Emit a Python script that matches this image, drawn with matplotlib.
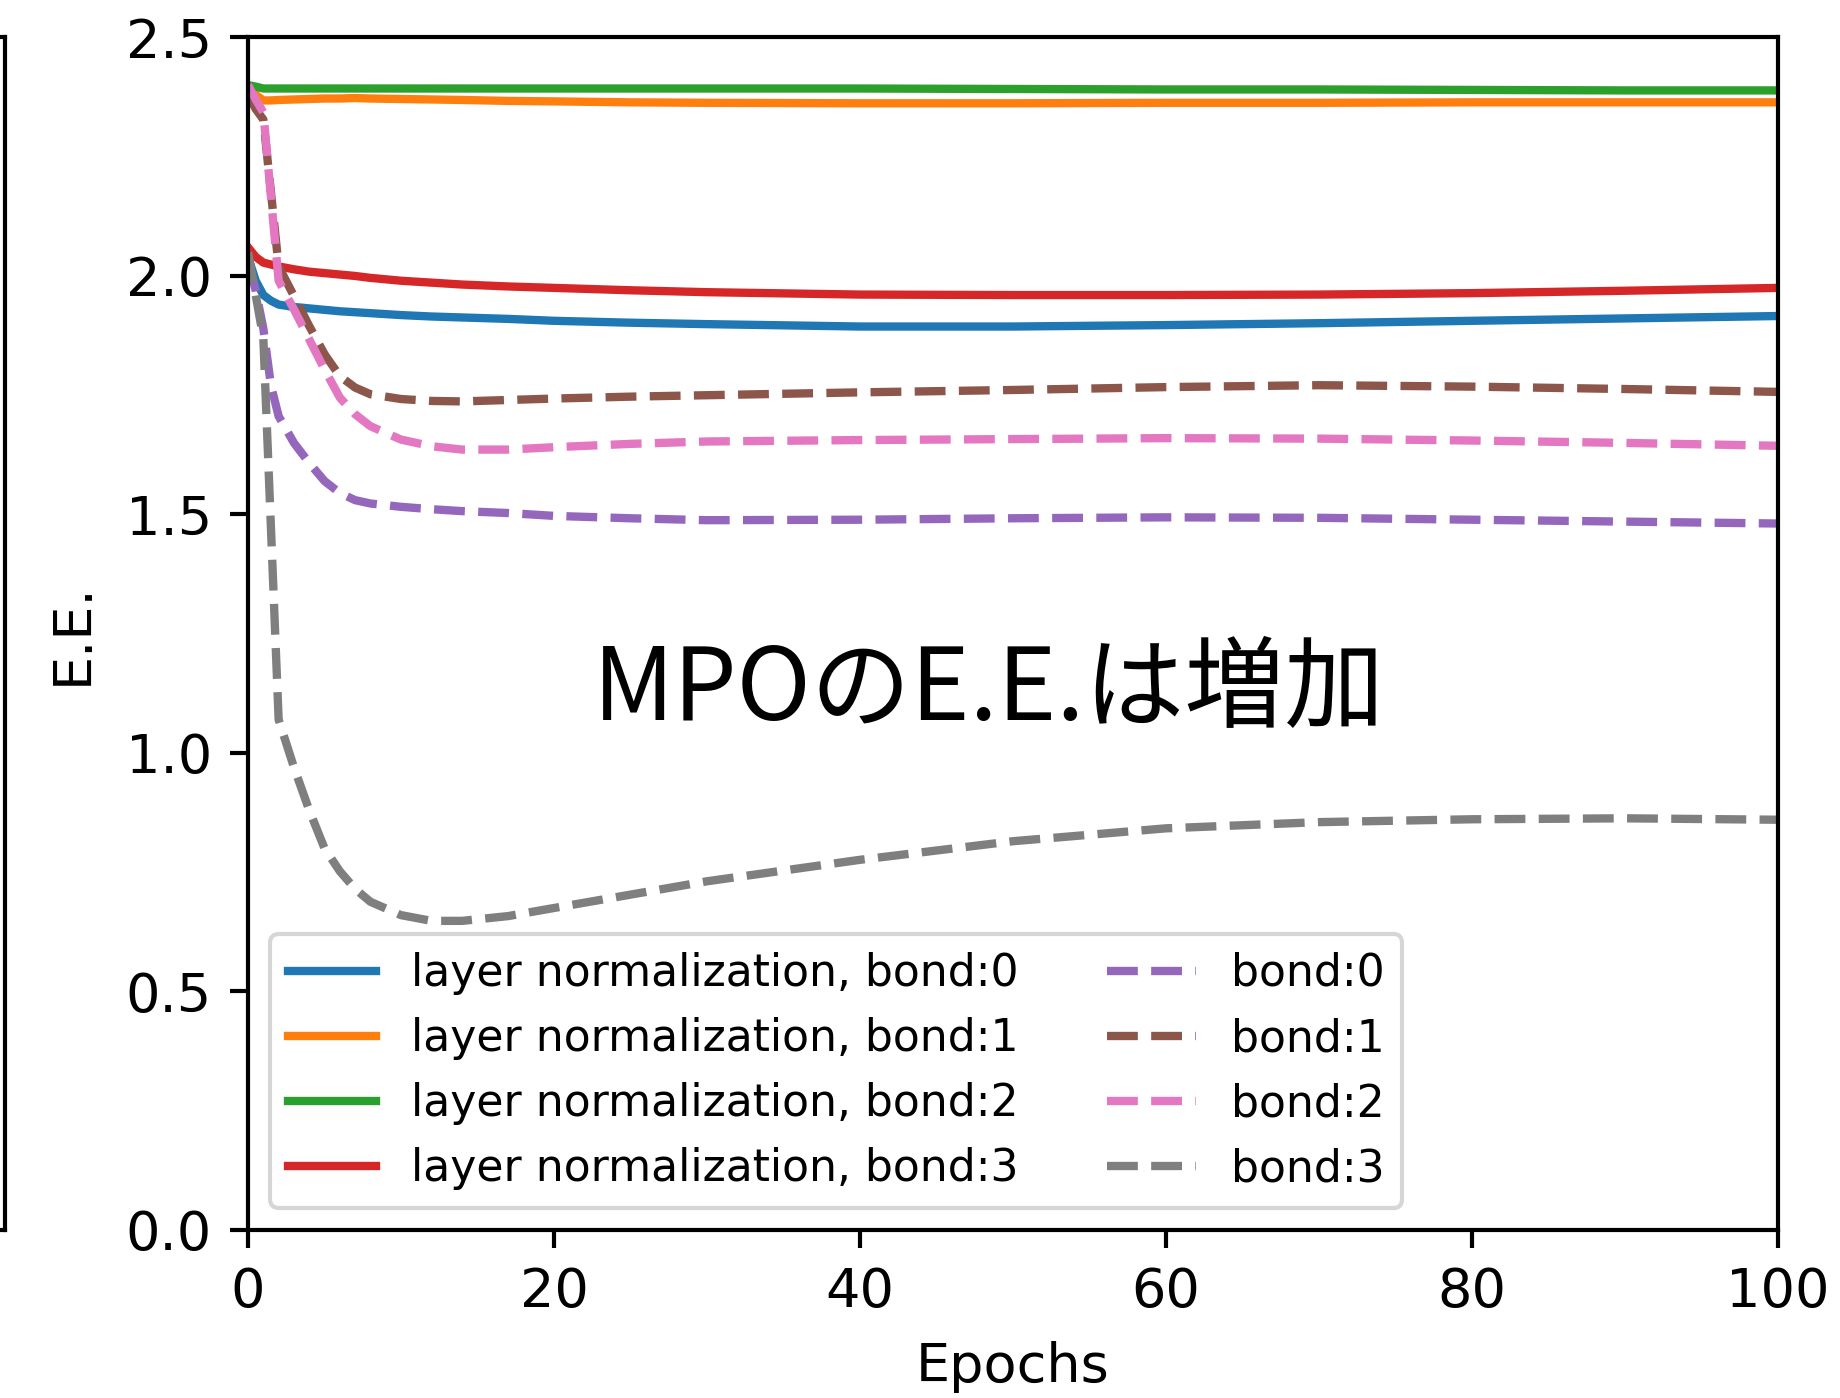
import matplotlib
matplotlib.use("Agg")
import matplotlib.pyplot as plt

# epochs (shared sampling grid)
epochs = [0, 0.5, 1, 1.5, 2, 3, 4, 5, 6, 7, 8, 10, 12, 14, 17, 20, 25, 30, 40, 50, 60, 70, 80, 90, 100]

# layer normalization runs
ln_bond0 = [2.04, 1.99, 1.96, 1.948, 1.94, 1.935, 1.932, 1.929, 1.926, 1.924, 1.922, 1.918, 1.915, 1.913, 1.910,
            1.906, 1.902, 1.899, 1.894, 1.894, 1.897, 1.901, 1.906, 1.911, 1.916]
ln_bond1 = [2.40, 2.38, 2.368, 2.368, 2.369, 2.370, 2.371, 2.372, 2.372, 2.373, 2.372, 2.371, 2.370, 2.369, 2.367,
            2.366, 2.364, 2.363, 2.362, 2.362, 2.363, 2.363, 2.364, 2.364, 2.364]
ln_bond2 = [2.40, 2.397, 2.393, 2.393, 2.393, 2.393, 2.393, 2.393, 2.393, 2.393, 2.393, 2.393, 2.393, 2.393, 2.393,
            2.393, 2.393, 2.393, 2.393, 2.392, 2.391, 2.391, 2.390, 2.389, 2.389]
ln_bond3 = [2.06, 2.04, 2.028, 2.024, 2.020, 2.014, 2.009, 2.006, 2.003, 2.000, 1.996, 1.990, 1.986, 1.982, 1.978,
            1.975, 1.970, 1.966, 1.961, 1.960, 1.960, 1.961, 1.964, 1.969, 1.975]

# plain runs
bond0 = [2.03, 1.97, 1.89, 1.77, 1.706, 1.650, 1.608, 1.570, 1.545, 1.530, 1.523, 1.516, 1.511, 1.507, 1.503,
         1.497, 1.492, 1.488, 1.489, 1.492, 1.494, 1.493, 1.489, 1.485, 1.481]
bond1 = [2.38, 2.35, 2.328, 2.175, 2.02, 1.958, 1.895, 1.836, 1.790, 1.766, 1.752, 1.742, 1.738, 1.737, 1.740,
         1.743, 1.747, 1.750, 1.756, 1.761, 1.767, 1.771, 1.768, 1.763, 1.757]
bond2 = [2.40, 2.37, 2.343, 2.165, 1.99, 1.93, 1.867, 1.804, 1.745, 1.710, 1.685, 1.657, 1.643, 1.636, 1.636,
         1.641, 1.648, 1.653, 1.656, 1.658, 1.660, 1.659, 1.655, 1.650, 1.644]
bond3 = [2.05, 1.96, 1.87, 1.47, 1.07, 0.97, 0.88, 0.80, 0.752, 0.715, 0.688, 0.660, 0.648, 0.648, 0.658,
         0.675, 0.703, 0.731, 0.776, 0.815, 0.842, 0.855, 0.861, 0.863, 0.860]

ln_series = [ln_bond0, ln_bond1, ln_bond2, ln_bond3]
plain_series = [bond0, bond1, bond2, bond3]
colors = ["#1f77b4", "#ff7f0e", "#2ca02c", "#d62728", "#9467bd", "#8c564b", "#e377c2", "#7f7f7f"]

plt.rcParams["font.size"] = 13

fig = plt.figure(figsize=(1840 / 300, 1398 / 300), dpi=300)
ax = fig.add_axes([0.1348, 0.1202, 0.8315, 0.853])

for i, ys in enumerate(ln_series):
    ax.plot(epochs, ys, color=colors[i], lw=2, label="layer normalization, bond:" + str(i))
for i, ys in enumerate(plain_series):
    ax.plot(epochs, ys, color=colors[4 + i], lw=2, ls="--", label="bond:" + str(i))

ax.set_xlim(0, 100)
ax.set_ylim(0, 2.5)
ax.set_xlabel("Epochs", labelpad=5.4)
ax.set_ylabel("E.E.", labelpad=6.5)
ax.tick_params(length=4.4, width=1.0, pad=4.3)
for sp in ax.spines.values():
    sp.set_linewidth(1.0)

ax.legend(loc="lower left", ncol=2, fontsize=10.6)

ax.text(48.4, 1.13, "MPOのE.E.は増加", fontsize=24, family=["Noto Sans CJK JP", "DejaVu Sans"],
        ha="center", va="center")

# edge of a neighbouring panel, cut off at the left border
side = fig.add_axes([-0.5, 0.1202, 0.5027, 0.853])
side.set_xticks([])
side.set_yticks([])
for sp in side.spines.values():
    sp.set_linewidth(1.0)

fig.savefig("out.png", dpi=300)
